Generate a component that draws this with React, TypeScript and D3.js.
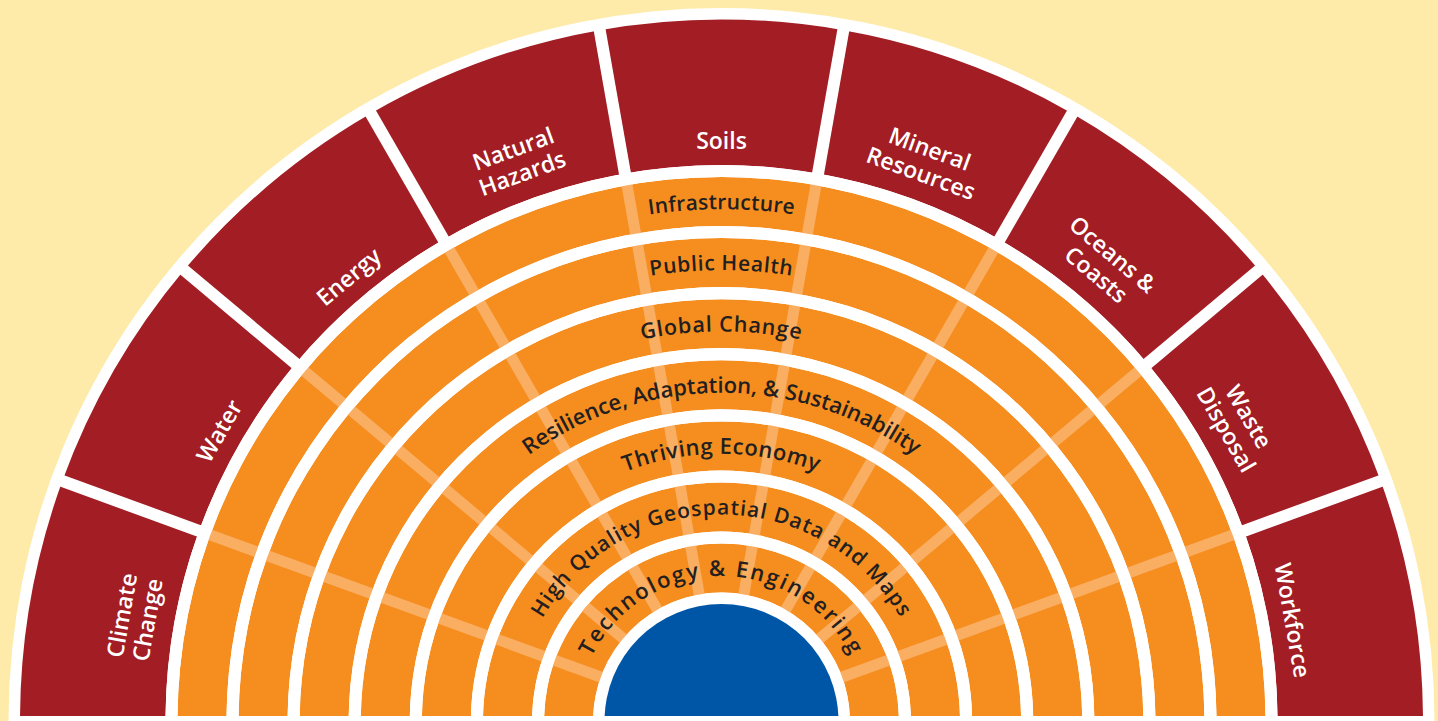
import React from "react";
import * as d3 from "d3";

// ---- data ----
const outerCategories: string[][] = [
  ["Climate", "Change"],
  ["Water"],
  ["Energy"],
  ["Natural", "Hazards"],
  ["Soils"],
  ["Mineral", "Resources"],
  ["Oceans &", "Coasts"],
  ["Waste", "Disposal"],
  ["Workforce"],
];

const ringLabels: string[] = [
  "Infrastructure",
  "Public Health",
  "Global Change",
  "Resilience, Adaptation, & Sustainability",
  "Thriving Economy",
  "High Quality Geospatial Data and Maps",
  "Technology & Engineering",
];

// ---- style / layout ----
const W = 1438;
const H = 721;
const CX = 721.5;
const CY = 721;
const CLIP_Y = 716;
const R_WHITE = 713;
const R_RED_OUT = 701.5;
const R_RED_IN = 556;
const R_RING_OUT0 = 544;
const RING_STEP = 61.1;
const RING_W = 49;
const R_BLUE = 117;

const C_BG = "#FEEBAA";
const C_RED = "#A21D24";
const C_ORANGE = "#F68D1F";
const C_STRIPE = "#F9AE62";
const C_BLUE = "#0056A6";
const C_TEXT = "#231F20";

const ringFontSizes = [21, 21, 21.5, 22, 22, 21, 22];
const ringLetterSpacing = [0.2, 0.6, 0.8, -0.05, 0.5, 1.0, 2.0];
const redFont = 23;

export default function App() {
  const nSeg = outerCategories.length;
  const segAngle = Math.PI / nSeg;
  // d3 angles: clockwise from 12 o'clock
  const seg = d3
    .scaleLinear()
    .domain([0, nSeg])
    .range([-Math.PI / 2, Math.PI / 2]);

  const redArc = d3
    .arc<any>()
    .innerRadius(R_RED_IN)
    .outerRadius(R_RED_OUT);

  const rings = ringLabels.map((label, i) => {
    const outer = R_RING_OUT0 - i * RING_STEP;
    const inner = outer - RING_W;
    return { label, outer, inner, mid: (outer + inner) / 2, i };
  });

  const ringArc = d3.arc<any>();
  const half = (inner: number, outer: number) =>
    ringArc({
      innerRadius: inner,
      outerRadius: outer,
      startAngle: -Math.PI / 2,
      endAngle: Math.PI / 2,
    }) as string;

  // separator angles (math angle, ccw from right)
  const sepAngles = d3.range(1, nSeg).map((k) => Math.PI - k * segAngle);

  const pt = (r: number, a: number) => [CX + r * Math.cos(a), CY - r * Math.sin(a)];

  return (
    <svg
      width={W}
      height={H}
      style={{ position: "absolute", left: 0, top: 0, display: "block" }}
      fontFamily="'Open Sans', 'Noto Sans', sans-serif"
    >
      <defs>
        <clipPath id="clipBottom">
          <rect x={0} y={0} width={W} height={CLIP_Y} />
        </clipPath>
        {rings.map((r) => {
          const rb = r.mid - 0.36 * ringFontSizes[r.i];
          return (
            <path
              key={r.i}
              id={`ringPath${r.i}`}
              d={`M ${CX - rb},${CY} A ${rb},${rb} 0 0 1 ${CX + rb},${CY}`}
            />
          );
        })}
      </defs>
      <rect x={0} y={0} width={W} height={H} fill={C_BG} />
      <circle cx={CX} cy={CY} r={R_WHITE} fill="#fff" />
      <g clipPath="url(#clipBottom)">
        {/* red outer segments */}
        <g transform={`translate(${CX},${CY})`}>
          {outerCategories.map((c, i) => (
            <path
              key={i}
              d={
                redArc({
                  startAngle: seg(i),
                  endAngle: seg(i + 1),
                }) as string
              }
              fill={C_RED}
            />
          ))}
          {/* orange rings */}
          {rings.map((r) => (
            <path key={r.i} d={half(r.inner, r.outer)} fill={C_ORANGE} />
          ))}
        </g>
        {/* light stripes through orange rings */}
        {sepAngles.map((a, k) => {
          const [x1, y1] = pt(rings[rings.length - 1].inner - 2, a);
          const [x2, y2] = pt(R_RING_OUT0 + 1, a);
          return (
            <line
              key={k}
              x1={x1}
              y1={y1}
              x2={x2}
              y2={y2}
              stroke={C_STRIPE}
              strokeWidth={11}
            />
          );
        })}
        {/* white gaps between orange rings */}
        <g transform={`translate(${CX},${CY})`}>
          {rings.map((r) => (
            <path
              key={r.i}
              d={half(r.inner - (RING_STEP - RING_W), r.inner)}
              fill="#fff"
            />
          ))}
          <path d={half(R_RING_OUT0, R_RED_IN)} fill="#fff" />
        </g>
        {/* white separators in red band */}
        {sepAngles.map((a, k) => {
          const [x1, y1] = pt(R_RED_IN - 2, a);
          const [x2, y2] = pt(R_RED_OUT + 4, a);
          return (
            <line
              key={k}
              x1={x1}
              y1={y1}
              x2={x2}
              y2={y2}
              stroke="#fff"
              strokeWidth={12}
            />
          );
        })}
        {/* blue center */}
        <path
          d={
            d3.arc<any>()({
              innerRadius: 0,
              outerRadius: R_BLUE,
              startAngle: -Math.PI / 2,
              endAngle: Math.PI / 2,
            }) as string
          }
          transform={`translate(${CX},${CY})`}
          fill={C_BLUE}
        />
      </g>
      {/* ring labels */}
      {rings.map((r) => (
        <text
          key={r.i}
          fontSize={ringFontSizes[r.i]}
          fontWeight={600}
          fill={C_TEXT}
          letterSpacing={ringLetterSpacing[r.i]}
        >
          <textPath href={`#ringPath${r.i}`} startOffset="50%" textAnchor="middle">
            {r.label}
          </textPath>
        </text>
      ))}
      {/* red labels */}
      {outerCategories.map((lines, i) => {
        const a = Math.PI - (i + 0.5) * segAngle;
        const R = 580 + (lines.length - 1) * 16;
        const [x, y] = pt(R, a);
        const rot = 90 - (a * 180) / Math.PI;
        const lh = 26;
        return (
          <g key={i} transform={`translate(${x},${y}) rotate(${rot})`}>
            {lines.map((ln, j) => (
              <text
                key={j}
                x={0}
                y={(j - (lines.length - 1) / 2) * lh}
                dy="0.36em"
                textAnchor="middle"
                fontSize={redFont}
                fontWeight={600}
                fill="#fff"
              >
                {ln}
              </text>
            ))}
          </g>
        );
      })}
    </svg>
  );
}
